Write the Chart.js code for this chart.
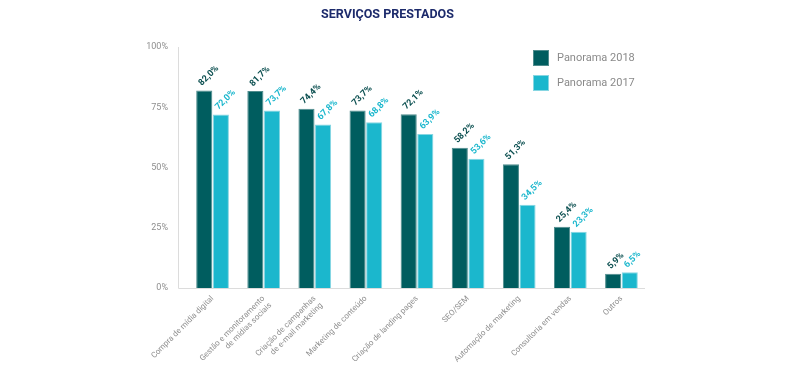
<!DOCTYPE html>
<html>
<head>
<meta charset="utf-8">
<style>
  html, body { margin: 0; padding: 0; background: #fff; }
  #wrap { width: 800px; height: 366px; position: relative; }
</style>
<script src="https://cdn.jsdelivr.net/npm/chart.js@4.4.0/dist/chart.umd.min.js"></script>
</head>
<body>
<div id="wrap"><canvas id="chart"></canvas></div>
<script>
// ==== DATA ====
var categories = [
  'Compra de mídia digital',
  ['Gestão e monitoramento', 'de mídias sociais'],
  ['Criação de campanhas', 'de e-mail marketing'],
  'Marketing de conteúdo',
  'Criação de landing pages',
  'SEO/SEM',
  'Automação de marketing',
  'Consultoria em vendas',
  'Outros'
];
var panorama2018 = [82.0, 81.7, 74.4, 73.7, 72.1, 58.2, 51.3, 25.4, 5.9];
var panorama2017 = [72.0, 73.7, 67.8, 68.8, 63.9, 53.6, 34.5, 23.3, 6.5];
var yTicks = [0, 25, 50, 75, 100];

var DARK = '#005d5f', LIGHT = '#1bb7cd';

function fmt(v) { return v.toFixed(1).replace('.', ',') + '%'; }

// ==== PLUGINS ====
var valueLabels = {
  id: 'valueLabels',
  afterDatasetsDraw: function (chart) {
    var ctx = chart.ctx;
    chart.data.datasets.forEach(function (ds, i) {
      var meta = chart.getDatasetMeta(i);
      meta.data.forEach(function (el, j) {
        ctx.save();
        ctx.translate(el.x - 4, el.y - 6);
        ctx.rotate(-Math.PI / 4);
        ctx.font = 'bold 9px Roboto';
        ctx.fillStyle = ds.backgroundColor === LIGHT ? '#1bb7cd' : '#0b4f50';
        ctx.textAlign = 'left';
        ctx.textBaseline = 'middle';
        ctx.fillText(fmt(ds.data[j]), 0, 0);
        ctx.restore();
      });
    });
  }
};

var boxLegend = {
  id: 'boxLegend',
  afterDraw: function (chart) {
    var ctx = chart.ctx;
    chart.data.datasets.forEach(function (ds, i) {
      var y = 50 + i * 25;
      ctx.save();
      ctx.fillStyle = ds.backgroundColor;
      ctx.fillRect(533, y, 16, 16);
      ctx.strokeStyle = ds.borderColor;
      ctx.lineWidth = 1;
      ctx.strokeRect(533.5, y + 0.5, 15, 15);
      ctx.font = '11px Roboto';
      ctx.fillStyle = '#8a8a8a';
      ctx.textBaseline = 'middle';
      ctx.fillText(ds.label, 557, y + 8);
      ctx.restore();
    });
  }
};

// y axis line sits a bit left of the first category
var axisLine = {
  id: 'axisLine',
  afterDraw: function (chart) {
    var a = chart.chartArea, ctx = chart.ctx;
    ctx.save();
    ctx.strokeStyle = '#dcdcdc';
    ctx.lineWidth = 1;
    ctx.beginPath();
    ctx.moveTo(a.left - 8.5, a.top);
    ctx.lineTo(a.left - 8.5, a.bottom + 0.5);
    ctx.lineTo(a.right - 2, a.bottom + 0.5);
    ctx.stroke();
    ctx.restore();
  }
};

// ==== CHART ====
new Chart(document.getElementById('chart').getContext('2d'), {
  type: 'bar',
  data: {
    labels: categories,
    datasets: [
      { label: 'Panorama 2018', data: panorama2018, backgroundColor: DARK, borderColor: '#4f8c8d', borderWidth: 1,
        categoryPercentage: 0.65, barPercentage: 0.97 },
      { label: 'Panorama 2017', data: panorama2017, backgroundColor: LIGHT, borderColor: '#86d6e2', borderWidth: 1,
        categoryPercentage: 0.65, barPercentage: 0.97 }
    ]
  },
  options: {
    responsive: true,
    maintainAspectRatio: false,
    animation: false,
    layout: { padding: { left: 128, right: 153, top: 0, bottom: 0 } },
    plugins: {
      legend: { display: false },
      tooltip: { enabled: false },
      title: {
        display: true,
        text: 'SERVIÇOS PRESTADOS',
        color: '#1c2a6b',
        font: { family: 'Roboto', size: 12.5, weight: 'bold' },
        padding: { top: 7, bottom: 25 }
      }
    },
    scales: {
      x: {
        grid: { display: false, drawTicks: false },
        border: { display: false },
        ticks: {
          color: '#8e8e8e',
          font: { family: 'Roboto', size: 8 },
          minRotation: 45,
          maxRotation: 45,
          padding: 6,
          autoSkip: false
        },
        afterFit: function (s) { s.height = 78; }
      },
      y: {
        min: 0,
        max: 100,
        afterBuildTicks: function (s) { s.ticks = yTicks.map(function (v) { return { value: v }; }); },
        grid: { display: false, drawTicks: false },
        border: { display: false },
        ticks: {
          color: '#8e8e8e',
          font: { family: 'Roboto', size: 9 },
          padding: 19,
          callback: function (v) { return v + '%'; }
        },
        afterFit: function (s) { s.width = 59; }
      }
    }
  },
  plugins: [valueLabels, boxLegend, axisLine]
});
</script>
</body>
</html>
